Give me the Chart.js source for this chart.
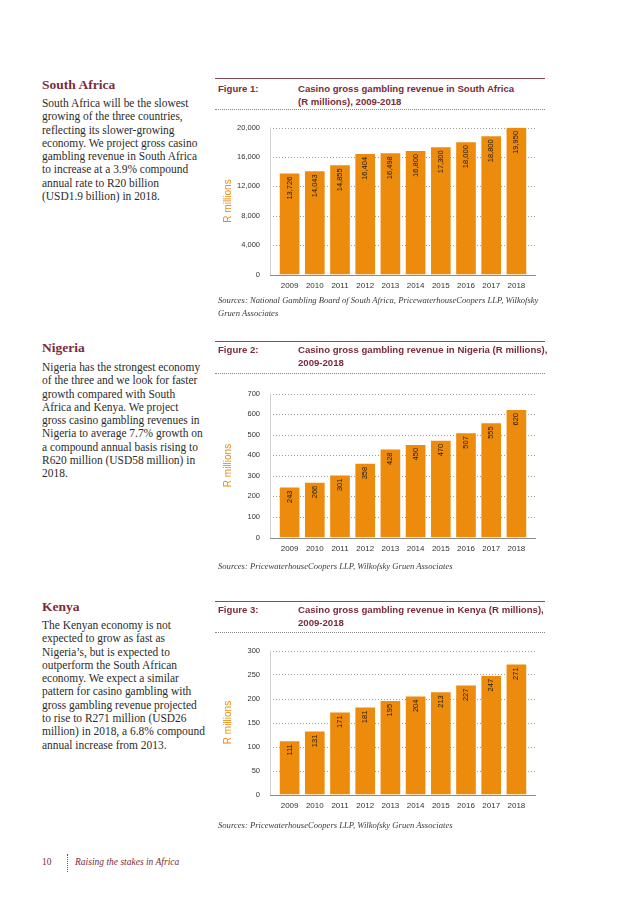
<!DOCTYPE html>
<html>
<head>
<meta charset="utf-8">
<script src="https://cdn.jsdelivr.net/npm/chart.js@4.4.0/dist/chart.umd.min.js"></script>
<style>
  html, body { margin: 0; padding: 0; background: #fff; }
  body { width: 638px; height: 903px; position: relative; overflow: hidden; }
  .abs { position: absolute; }
  .heading { font-family: "Liberation Serif", serif; font-weight: bold; font-size: 13.5px; color: #7c2b3b; }
  .body-text { font-family: "Liberation Serif", serif; font-size: 11.45px; line-height: 13.3px; color: #2b2b2b; }
  .rule { position: absolute; height: 0; border-top: 1px solid #8a4a55; }
  .dots { position: absolute; height: 0; border-top: 1px dotted #8a8a8a; }
  .fig-label, .fig-title { font-family: "Liberation Sans", Arial, sans-serif; font-weight: bold; font-size: 9.6px; line-height: 12.5px; color: #7c2b3b; }
  .sources { font-family: "Liberation Serif", serif; font-style: italic; font-size: 8.6px; line-height: 12.5px; color: #3a3a3a; }
  .chart-box { position: absolute; }
  .footer { font-family: "Liberation Serif", serif; font-size: 9.5px; color: #7c2b3b; }
</style>
</head>
<body>

<div class="abs heading" style="left:42px; top:77px;">South Africa</div>
<div class="abs body-text" style="left:42px; top:97px;">South Africa will be the slowest<br>growing of the three countries,<br>reflecting its slower-growing<br>economy. We project gross casino<br>gambling revenue in South Africa<br>to increase at a 3.9% compound<br>annual rate to R20 billion<br>(USD1.9 billion) in 2018.</div>

<div class="abs heading" style="left:42px; top:340px;">Nigeria</div>
<div class="abs body-text" style="left:42px; top:361px;">Nigeria has the strongest economy<br>of the three and we look for faster<br>growth compared with South<br>Africa and Kenya. We project<br>gross casino gambling revenues in<br>Nigeria to average 7.7% growth on<br>a compound annual basis rising to<br>R620 million (USD58 million) in<br>2018.</div>

<div class="abs heading" style="left:42px; top:599px;">Kenya</div>
<div class="abs body-text" style="left:42px; top:619px;">The Kenyan economy is not<br>expected to grow as fast as<br>Nigeria’s, but is expected to<br>outperform the South African<br>economy. We expect a similar<br>pattern for casino gambling with<br>gross gambling revenue projected<br>to rise to R271 million (USD26<br>million) in 2018, a 6.8% compound<br>annual increase from 2013.</div>

<!-- figure 1 -->
<div class="rule" style="left:215px; top:78px; width:330px;"></div>
<div class="abs fig-label" style="left:218px; top:83px;">Figure 1:</div>
<div class="abs fig-title" style="left:298px; top:83px;">Casino gross gambling revenue in South Africa<br>(R millions), 2009-2018</div>
<div class="dots" style="left:215px; top:109px; width:330px;"></div>
<div class="chart-box" style="left:215px; top:106px; width:325px; height:190px;"><canvas id="chartSouthAfrica"></canvas></div>
<div class="abs sources" style="left:218px; top:294px;">Sources: National Gambling Board of South Africa, PricewaterhouseCoopers LLP, Wilkofsky<br>Gruen Associates</div>

<!-- figure 2 -->
<div class="rule" style="left:215px; top:341px; width:330px;"></div>
<div class="abs fig-label" style="left:218px; top:344px;">Figure 2:</div>
<div class="abs fig-title" style="left:298px; top:344px;">Casino gross gambling revenue in Nigeria (R millions),<br>2009-2018</div>
<div class="dots" style="left:215px; top:373px; width:330px;"></div>
<div class="chart-box" style="left:215px; top:372px; width:325px; height:187px;"><canvas id="chartNigeria"></canvas></div>
<div class="abs sources" style="left:218px; top:560px;">Sources: PricewaterhouseCoopers LLP, Wilkofsky Gruen Associates</div>

<!-- figure 3 -->
<div class="rule" style="left:215px; top:601px; width:330px;"></div>
<div class="abs fig-label" style="left:218px; top:604px;">Figure 3:</div>
<div class="abs fig-title" style="left:298px; top:604px;">Casino gross gambling revenue in Kenya (R millions),<br>2009-2018</div>
<div class="dots" style="left:215px; top:632px; width:330px;"></div>
<div class="chart-box" style="left:215px; top:629px; width:325px; height:187px;"><canvas id="chartKenya"></canvas></div>
<div class="abs sources" style="left:218px; top:819px;">Sources: PricewaterhouseCoopers LLP, Wilkofsky Gruen Associates</div>

<!-- footer -->
<div class="abs footer" style="left:42px; top:857px;">10</div>
<div class="abs" style="left:67px; top:854px; height:18px; border-left:1px dotted #8a4a55;"></div>
<div class="abs footer" style="left:75px; top:857px; font-style:italic;">Raising the stakes in Africa</div>

<script>
const years = ["2009", "2010", "2011", "2012", "2013", "2014", "2015", "2016", "2017", "2018"];
const southAfricaRevenue = [13726, 14043, 14855, 16404, 16498, 16800, 17300, 18000, 18800, 19950];
const nigeriaRevenue = [243, 266, 301, 358, 428, 450, 470, 507, 555, 620];
const kenyaRevenue = [111, 131, 171, 181, 195, 204, 213, 227, 247, 271];
const southAfricaAxis = { max: 20000, step: 4000 };
const nigeriaAxis = { max: 700, step: 100 };
const kenyaAxis = { max: 300, step: 50 };

const BAR_COLOR = "#ec8b0c";
const TICK_COLOR = "#333333";
const SANS = "'Liberation Sans', Arial, sans-serif";

// dotted grid, faint left rule and solid baseline, a little wider than the bars
const framePlugin = {
  id: "frame",
  beforeDatasetsDraw(chart) {
    const { ctx, chartArea, scales } = chart;
    const left = chartArea.left - 7;
    const right = chartArea.right + 7;
    const zero = Math.round(scales.y.getPixelForValue(0)) + 0.5;

    ctx.save();
    ctx.lineWidth = 1;
    ctx.strokeStyle = "#9c9c9c";
    ctx.setLineDash([1, 2]);
    scales.y.ticks.forEach((tick) => {
      if (tick.value === 0) return;
      const y = Math.round(scales.y.getPixelForValue(tick.value)) + 0.5;
      ctx.beginPath();
      ctx.moveTo(left, y);
      ctx.lineTo(right, y);
      ctx.stroke();
    });
    ctx.setLineDash([]);
    ctx.strokeStyle = "#d0d0d0";
    ctx.beginPath();
    ctx.moveTo(Math.round(left) + 0.5, chartArea.top);
    ctx.lineTo(Math.round(left) + 0.5, zero);
    ctx.stroke();
    ctx.restore();
  },
  afterDatasetsDraw(chart) {
    const { ctx, chartArea, scales } = chart;
    const zero = Math.round(scales.y.getPixelForValue(0)) + 0.5;
    ctx.save();
    ctx.strokeStyle = "#8c8c8c";
    ctx.lineWidth = 1.2;
    ctx.beginPath();
    ctx.moveTo(chartArea.left - 7, zero);
    ctx.lineTo(chartArea.right + 7, zero);
    ctx.stroke();
    ctx.restore();
  },
};

// rotated value labels just inside the top of each bar
const valueLabels = {
  id: "valueLabels",
  afterDatasetsDraw(chart) {
    const { ctx } = chart;
    const values = chart.data.datasets[0].data;
    ctx.save();
    ctx.font = `7.5px ${SANS}`;
    ctx.fillStyle = "#1a1a1a";
    ctx.textAlign = "right";
    ctx.textBaseline = "middle";
    chart.getDatasetMeta(0).data.forEach((bar, index) => {
      ctx.save();
      ctx.translate(bar.x, bar.y + 3);
      ctx.rotate(-Math.PI / 2);
      ctx.fillText(values[index].toLocaleString("en-US"), 0, 0);
      ctx.restore();
    });
    ctx.restore();
  },
};

function makeChart(canvasId, values, axis) {
  return new Chart(document.getElementById(canvasId), {
    type: "bar",
    data: {
      labels: years,
      datasets: [{
        data: values,
        backgroundColor: BAR_COLOR,
        borderWidth: 0,
        categoryPercentage: 1,
        barPercentage: 0.78,
      }],
    },
    options: {
      responsive: true,
      maintainAspectRatio: false,
      animation: false,
      layout: { padding: { top: 8, right: 11, left: 0, bottom: 0 } },
      plugins: {
        legend: { display: false },
        tooltip: { enabled: false },
      },
      scales: {
        x: {
          grid: { display: false, drawTicks: false },
          border: { display: false },
          ticks: {
            color: TICK_COLOR,
            font: { family: SANS, size: 8 },
            padding: 6,
            maxRotation: 0,
            autoSkip: false,
          },
          afterFit(scale) {
            scale.height = 18;
          },
        },
        y: {
          min: 0,
          max: axis.max,
          grid: { display: false, drawTicks: false },
          border: { display: false },
          ticks: {
            stepSize: axis.step,
            color: TICK_COLOR,
            font: { family: SANS, size: 7.5 },
            padding: 17,
            callback(value) {
              return value.toLocaleString("en-US");
            },
          },
          title: {
            display: true,
            text: "R millions",
            color: BAR_COLOR,
            font: { family: SANS, size: 10 },
            padding: { top: 7, bottom: 0 },
          },
          afterFit(scale) {
            scale.width = 62;
          },
        },
      },
    },
    plugins: [framePlugin, valueLabels],
  });
}

makeChart("chartSouthAfrica", southAfricaRevenue, southAfricaAxis);
makeChart("chartNigeria", nigeriaRevenue, nigeriaAxis);
makeChart("chartKenya", kenyaRevenue, kenyaAxis);
</script>
</body>
</html>
